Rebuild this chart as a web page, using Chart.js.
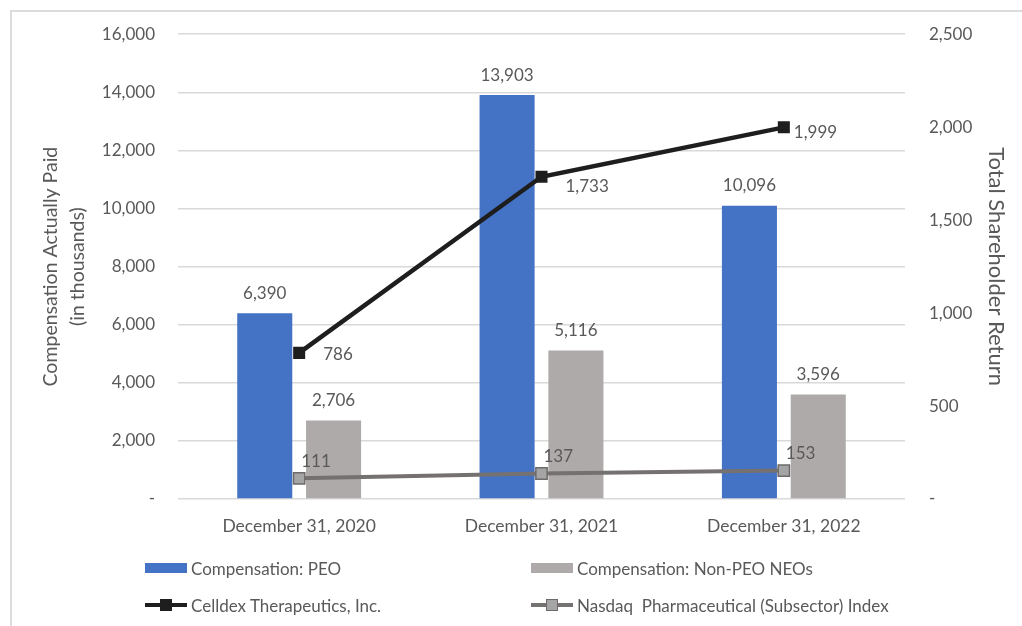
<!DOCTYPE html>
<html lang="en">
<head>
<meta charset="UTF-8">
<title>Compensation Actually Paid vs TSR</title>
<script src="https://cdn.jsdelivr.net/npm/chart.js"></script>
<style>
  body { margin: 0; background: #fff; font-family: Lato, sans-serif; }
  #wrap { position: relative; width: 1022px; height: 626px; overflow: hidden; }
  #frame { position: absolute; left: 10px; top: 10px; right: -5px; bottom: -5px;
           border-top: 2px solid #dcdcdc; border-left: 2px solid #dcdcdc; }
  canvas { position: absolute; left: 0; top: 0; }
  .key { position: absolute; height: 20px; display: flex; align-items: center;
         color: #595959; font-size: 17px; white-space: nowrap; }
  .swatch { width: 42px; height: 10px; margin-right: 4px; }
  .linekey { position: relative; width: 42px; height: 12px; margin-right: 4px; }
  .linekey .ln { position: absolute; left: 0; right: 0; top: 4px; height: 4px; }
  .linekey .mk { position: absolute; left: 15px; top: 0; width: 12px; height: 12px; box-sizing: border-box; }
</style>
</head>
<body>
<div id="wrap">
  <div id="frame"></div>
  <canvas id="capChart" width="1022" height="626"></canvas>
  <div id="legend"></div>
</div>

<script>
// values
var categories = ['December 31, 2020', 'December 31, 2021', 'December 31, 2022'];
var peoComp = [6390, 13903, 10096];      // $ thousands
var neoComp = [2706, 5116, 3596];        // $ thousands
var celldexTsr = [786, 1733, 1999];
var nasdaqTsr = [111, 137, 153];

var TEXT = '#595959';

function fmt(v) {
    return v === 0 ? '-' : v.toLocaleString('en-US');
}

// simple data label drawing, no datalabels plugin offline
var valueLabels = {
    id: 'valueLabels',
    afterDatasetsDraw: function(chart, args, opts) {
        var ctx = chart.ctx;
        ctx.save();
        ctx.font = '17px Lato';
        ctx.fillStyle = TEXT;
        ctx.textBaseline = 'middle';
        chart.data.datasets.forEach(function(ds, i) {
            var meta = chart.getDatasetMeta(i);
            var nudge = (opts.nudge && opts.nudge[i]) || [];
            meta.data.forEach(function(el, j) {
                var txt = fmt(ds.data[j]);
                var n = nudge[j] || [0, 0];
                if (ds.labelPos === 'top') {
                    ctx.textAlign = 'center';
                    ctx.fillText(txt, el.x, el.y - 20);
                } else if (ds.labelPos === 'right') {
                    ctx.textAlign = 'left';
                    ctx.fillText(txt, el.x + n[0], el.y + n[1]);
                } else {
                    ctx.textAlign = 'left';
                    ctx.fillText(txt, el.x + 2, el.y - 17);
                }
            });
        });
        ctx.restore();
    }
};

var ctx = document.getElementById('capChart').getContext('2d');

var myChart = new Chart(ctx, {
    type: 'bar',
    data: {
        labels: categories,
        datasets: [{
            type: 'line',
            label: 'Celldex Therapeutics, Inc.',
            data: celldexTsr,
            yAxisID: 'y1',
            borderColor: '#1e1e1e',
            borderWidth: 4.5,
            pointStyle: 'rect',
            pointRadius: 8.5,
            pointBackgroundColor: '#1e1e1e',
            pointBorderColor: '#1e1e1e',
            pointBorderWidth: 0,
            tension: 0,
            fill: false,
            order: 1,
            labelPos: 'right'
        }, {
            type: 'line',
            label: 'Nasdaq  Pharmaceutical (Subsector) Index',
            data: nasdaqTsr,
            yAxisID: 'y1',
            borderColor: '#767171',
            borderWidth: 4,
            pointStyle: 'rect',
            pointRadius: 8,
            pointBackgroundColor: '#a5a5a5',
            pointBorderColor: '#6e6a6a',
            pointBorderWidth: 1.5,
            tension: 0,
            fill: false,
            order: 1,
            labelPos: 'aboveRight'
        }, {
            label: 'Compensation: PEO',
            data: peoComp,
            yAxisID: 'y',
            backgroundColor: '#4472c4',
            order: 2,
            labelPos: 'top'
        }, {
            label: 'Compensation: Non-PEO NEOs',
            data: neoComp,
            yAxisID: 'y',
            backgroundColor: '#aeaaaa',
            order: 2,
            labelPos: 'top'
        }]
    },
    options: {
        responsive: false,
        animation: false,
        devicePixelRatio: 1,
        layout: { padding: { top: 34, left: 0, right: 0, bottom: 0 } },
        datasets: {
            bar: { categoryPercentage: 0.568, barPercentage: 0.8 }
        },
        scales: {
            x: {
                grid: { display: false },
                border: { display: false },
                ticks: { color: TEXT, font: { family: 'Lato', size: 17.5 }, padding: 9 },
                afterFit: function(scale) { scale.height = 127; }
            },
            y: {
                position: 'left',
                min: 0,
                max: 16000,
                ticks: {
                    stepSize: 2000,
                    color: TEXT,
                    padding: 23,
                    font: { family: 'Lato', size: 17 },
                    callback: function(v) { return fmt(v); }
                },
                grid: { color: '#d9d9d9', lineWidth: 1.5, drawTicks: false },
                border: { display: false },
                title: {
                    display: true,
                    text: ['Compensation Actually Paid', '(in thousands)'],
                    color: TEXT,
                    font: { family: 'Lato', size: 19.5, lineHeight: 1.385 },
                    padding: { top: 37.5, bottom: 0 }
                },
                afterFit: function(scale) { scale.width = 178; }
            },
            y1: {
                position: 'right',
                min: 0,
                max: 2500,
                ticks: {
                    stepSize: 500,
                    color: TEXT,
                    padding: 24,
                    font: { family: 'Lato', size: 17 },
                    callback: function(v) { return fmt(v); }
                },
                grid: { display: false, drawTicks: false },
                border: { display: false },
                title: {
                    display: true,
                    text: 'Total Shareholder Return',
                    color: TEXT,
                    font: { family: 'Lato', size: 22, lineHeight: 1.2 },
                    padding: { top: 13, bottom: 0 }
                },
                afterFit: function(scale) { scale.width = 117; }
            }
        },
        plugins: {
            legend: { display: false },
            tooltip: { enabled: false },
            valueLabels: {
                // label offsets for the TSR line, as placed in the original
                nudge: { 0: [[24, 2], [24, 10], [10, 5]] }
            }
        }
    },
    plugins: [valueLabels]
});

// legend in two rows like the original
var legendSpots = {
    'Compensation: PEO': [145, 568],
    'Compensation: Non-PEO NEOs': [531, 568],
    'Celldex Therapeutics, Inc.': [145, 605],
    'Nasdaq  Pharmaceutical (Subsector) Index': [531, 605]
};
var legend = document.getElementById('legend');
myChart.data.datasets.forEach(function(ds) {
    var spot = legendSpots[ds.label];
    var item = document.createElement('div');
    item.className = 'key';
    item.style.left = spot[0] + 'px';
    item.style.top = (spot[1] - 10) + 'px';
    var mark;
    if (ds.type === 'line') {
        mark = document.createElement('div');
        mark.className = 'linekey';
        mark.innerHTML = '<div class="ln" style="background:' + ds.borderColor + '"></div>' +
            '<div class="mk" style="background:' + ds.pointBackgroundColor +
            ';border:' + ds.pointBorderWidth + 'px solid ' + ds.pointBorderColor + '"></div>';
    } else {
        mark = document.createElement('div');
        mark.className = 'swatch';
        mark.style.background = ds.backgroundColor;
    }
    item.appendChild(mark);
    var txt = document.createElement('span');
    txt.textContent = ds.label;
    txt.style.whiteSpace = 'pre';
    item.appendChild(txt);
    legend.appendChild(item);
});
</script>
</body>
</html>
